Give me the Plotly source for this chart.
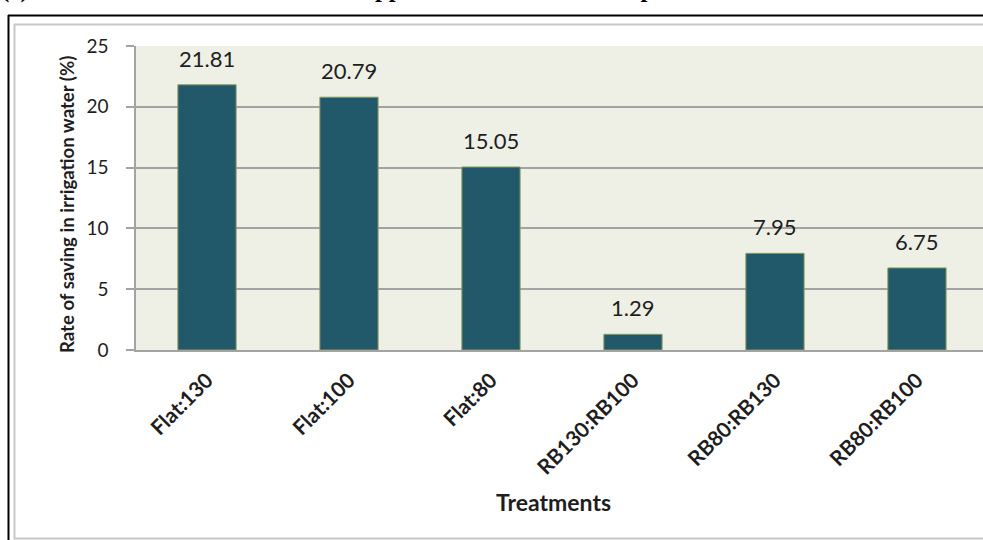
import plotly.graph_objects as go

# Treatments and their rate of saving in irrigation water (%)
treatments = ["Flat:130", "Flat:100", "Flat:80", "RB130:RB100", "RB80:RB130", "RB80:RB100"]
saving_pct = [21.81, 20.79, 15.05, 1.29, 7.95, 6.75]
y_ticks = [0, 5, 10, 15, 20, 25]

W, H = 983, 540
ML, MT, MB = 136, 46, 190
PW, PH = W - ML, H - MT - MB


def px_x(px):
    return (px - ML) / PW


def px_y(py):
    return (H - MB - py) / PH


BAR = "#22596A"
EDGE = "#8C9A5C"
GRID = "#A3A3A3"
TXT = "#1E1E1E"

fig = go.Figure()
fig.add_trace(go.Bar(
    x=treatments,
    y=saving_pct,
    marker=dict(color=BAR, line=dict(color=EDGE, width=1)),
    hoverinfo="x+y",
))

# value labels above each bar
for cat, val in zip(treatments, saving_pct):
    fig.add_annotation(
        x=cat, y=val, xref="x", yref="y",
        text=f"{val:.2f}", showarrow=False,
        yanchor="bottom", yshift=12, borderpad=0,
        font=dict(family="Lato", size=22, color=TXT),
    )

# axis titles
fig.add_annotation(
    x=px_x(553), y=px_y(502), xref="paper", yref="paper",
    text="<b>Treatments</b>", showarrow=False,
    xanchor="center", yanchor="middle",
    font=dict(family="Lato", size=23, color=TXT),
)
fig.add_annotation(
    x=px_x(67), y=px_y(205), xref="paper", yref="paper",
    text="<b>Rate of saving in irrigation water (%)</b>", showarrow=False,
    textangle=-90, xanchor="center", yanchor="middle",
    font=dict(family="Lato", size=18.6, color=TXT),
)

# panel heading running off the top edge
head_y = px_y(3.5)
fig.add_annotation(
    x=px_x(0), y=head_y, xref="paper", yref="paper",
    text="<b>(c)</b>", showarrow=False, xanchor="left", yanchor="bottom",
    borderpad=0, font=dict(family="Liberation Serif", size=25, color="black"),
)
fig.add_annotation(
    x=px_x(289), y=head_y, xref="paper", yref="paper",
    text="<b>Water applied in treatments compared</b>", showarrow=False,
    xanchor="left", yanchor="bottom",
    borderpad=0, font=dict(family="Liberation Serif", size=25, color="black"),
)

# frame lines around the chart
fig.add_shape(type="line", xref="paper", yref="paper",
              x0=px_x(8), x1=px_x(W + 10), y0=px_y(15.5), y1=px_y(15.5),
              line=dict(color="black", width=2))
fig.add_shape(type="line", xref="paper", yref="paper",
              x0=px_x(8.5), x1=px_x(8.5), y0=px_y(15), y1=px_y(H + 10),
              line=dict(color="black", width=2))
fig.add_shape(type="rect", xref="paper", yref="paper",
              x0=px_x(14.5), x1=px_x(W + 20), y0=px_y(24.5), y1=px_y(538.5),
              line=dict(color="#C8C8C8", width=2), fillcolor="rgba(0,0,0,0)")

fig.update_layout(
    width=W, height=H,
    margin=dict(l=ML, r=0, t=MT, b=MB, pad=0),
    paper_bgcolor="white",
    plot_bgcolor="#EEF0E6",
    bargap=0.59,
    showlegend=False,
    font=dict(family="Lato", color=TXT),
)
fig.update_xaxes(
    range=[-0.5, 5.465],
    tickangle=-45,
    tickfont=dict(family="Lato", size=21, color=TXT, weight="bold"),
    showgrid=False,
    showline=True, linecolor=GRID, linewidth=1.5,
    ticks="", ticklabelstandoff=8,
    fixedrange=True,
)
fig.update_yaxes(
    range=[0, 25],
    tickvals=y_ticks,
    tickfont=dict(family="Lato", size=19, color=TXT),
    showgrid=True, gridcolor=GRID, gridwidth=1.5,
    showline=True, linecolor=GRID, linewidth=1.5,
    ticks="outside", ticklen=8, tickcolor=GRID, tickwidth=1.5,
    ticklabelstandoff=14,
    zeroline=False,
    fixedrange=True,
)

fig.write_html("out.html")
